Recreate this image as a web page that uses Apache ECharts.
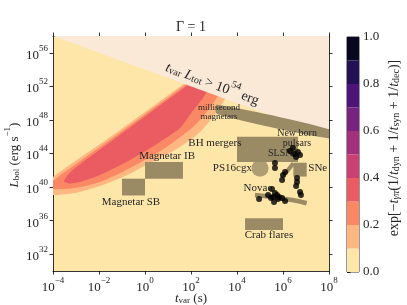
<!DOCTYPE html>
<html><head><meta charset="utf-8">
<script src="https://cdn.jsdelivr.net/npm/echarts@6/dist/echarts.min.js"></script>
<style>html,body{margin:0;padding:0;background:#fff}#c{width:407px;height:305px}</style>
</head><body><div id="c"></div>
<script>
// ---- data (all positions are log10 values: x = log10 t_var [s], y = log10 L_bol [erg/s]) ----
const xTicks = [-4, -2, 0, 2, 4, 6, 8];
const yTicks = [32, 36, 40, 44, 48, 52, 56];
const cbTicks = [0, 0.2, 0.4, 0.6, 0.8, 1.0];
const cbLevels = [0, 0.1, 0.2, 0.3, 0.4, 0.5, 0.6, 0.7, 0.8, 0.9, 1.0];
const cbColors = ['#fde6a8', '#feb780', '#fb8865', '#ea5c62', '#ca4070', '#a2307d', '#782281', '#4f1478', '#221154', '#090720'];

// filled contour boundaries of exp[...] >= 0.1, 0.2, 0.3
const contour10 = [[-4.39,39.89],[-4.0,41.20],[-1.39,46.21],[1.74,52.41],[3.70,56.34],
  [3.96,53.36],[3.48,50.50],[2.91,48.24],[2.30,46.33],[1.30,44.42],[0.22,42.87],[-0.87,41.32],[-1.96,40.13],[-3.04,39.30],[-3.91,39.06],[-4.35,39.18]];
const contour20 = [[-4.22,40.37],[-4.0,40.73],[-3.70,41.38],[-1.39,45.91],[1.74,52.17],[3.70,56.10],
  [3.61,53.36],[3.17,50.86],[2.61,48.71],[2.04,47.04],[0.87,44.66],[-0.65,42.28],[-1.96,40.61],[-3.04,39.89],[-3.70,39.77],[-4.13,39.89]];
const contour30 = [[-3.52,40.67],[-3.39,41.32],[-3.04,42.28],[-1.39,45.61],[1.74,51.93],[3.70,55.86],
  [3.04,53.36],[2.61,50.98],[2.04,48.95],[1.52,47.04],[0.65,45.38],[-0.65,43.23],[-1.96,41.44],[-2.83,40.61],[-3.26,40.43]];

// t_var * L_tot > 1e54 erg region
const energyLimit = [[-4, 58], [8, 46], [8, 58]];

// grey source boxes
const boxT = [[-1, 0], [0, 1.65], [4, 6.65], [6.45, 7.03], [4.35, 6.0]];
const boxL = [[39, 41], [41, 43], [43, 46], [41.25, 42.9], [34.9, 36.3]];
const msMagnetarBand = [[3.13, 49.8], [8.1, 46.8], [8.1, 45.75], [3.13, 48.7]];
const novaeT = [4.78, 5.35, 5.87, 6.52, 7.03];
const novaeL = [39.06, 38.88, 38.66, 38.40, 38.07];
const pulsarT = [5.94, 6.45];
const pulsarL = [41.05, 42.84];
const ps16cgx = [5.0, 42.24];

// black points
const dotT = [6.43, 6.65, 6.74, 6.48, 6.30, 6.57, 5.65, 5.65, 6.09, 6.00, 5.96, 6.61, 6.61, 6.57, 6.74, 6.78,
  5.52, 5.65, 5.35, 5.48, 5.61, 5.78, 5.96, 6.09, 4.96, 5.74, 5.57, 5.83];
const dotL = [44.66, 44.18, 43.83, 43.95, 44.30, 43.59, 42.87, 42.28, 41.80, 41.44, 40.85, 41.08, 40.61, 40.13, 39.42, 39.06,
  39.77, 39.30, 39.06, 38.70, 38.22, 38.58, 38.70, 38.34, 38.58, 39.06, 38.82, 38.82];

// annotations
const annText = ['Magnetar SB', 'Magnetar IB', 'BH mergers', 'millisecond\nmagnetars', 'New born\npulsars', 'SLSNe', 'PS16cgx', 'SNe', 'Novae', 'Crab flares'];
const annT = [-0.61, 0.96, 3.04, 3.22, 6.61, 5.35, 4.65, 7.1, 4.91, 5.39];
const annL = [38.22, 43.71, 45.26, 48.89, 45.79, 44.0, 42.24, 42.24, 39.86, 34.29];
const energyLabelPos = [2.96, 52.53];

// ---- styling ----
const SERIF = '"Liberation Serif", "Times New Roman", serif';
const TXT = '#262626';
const GREY = '#9a8b65';
const BEIGE = '#f9e9d6';
const annStyle = {
  'Magnetar SB': {size: 11, align: 'center'}, 'Magnetar IB': {size: 11, align: 'center'},
  'BH mergers': {size: 11, align: 'center'}, 'millisecond\nmagnetars': {size: 9, align: 'center', lh: 9},
  'New born\npulsars': {size: 10, align: 'center', lh: 10}, 'SLSNe': {size: 10, align: 'left'},
  'PS16cgx': {size: 11, align: 'right'}, 'SNe': {size: 11, align: 'left'}, 'Novae': {size: 11, align: 'center'},
  'Crab flares': {size: 11, align: 'center'}
};

function rich(F, S) {
  const LH = S + 9;
  return {
    r: {fontFamily: SERIF, fontSize: F, lineHeight: LH, verticalAlign: 'bottom', color: TXT, fill: TXT},
    i: {fontFamily: SERIF, fontSize: F, fontStyle: 'italic', lineHeight: LH, verticalAlign: 'bottom', color: TXT, fill: TXT},
    sp: {fontFamily: SERIF, fontSize: S, lineHeight: S, verticalAlign: 'top', color: TXT, fill: TXT},
    sb: {fontFamily: SERIF, fontSize: S, lineHeight: S + 3, verticalAlign: 'bottom', color: TXT, fill: TXT},
    si: {fontFamily: SERIF, fontSize: S, fontStyle: 'italic', lineHeight: S + 3, verticalAlign: 'bottom', color: TXT, fill: TXT}
  };
}
function expLabel(v) {
  const e = Math.round(v);
  return '{r|10}{sp|' + (e < 0 ? '\u2212' + (-e) : e) + '}';
}

function polySeries(poly, color, z) {
  return {
    type: 'custom', xAxisIndex: 0, yAxisIndex: 0, clip: true, z: z, silent: true,
    data: [poly[0]],
    renderItem: function (params, api) {
      return {type: 'polygon', shape: {points: poly.map(p => api.coord(p)), smooth: 0.25}, style: {fill: color}};
    }
  };
}

const axLine = {show: true, onZero: false, lineStyle: {color: '#000', width: 0.8}};
const axTick = {show: true, inside: false, length: 3.5, lineStyle: {color: '#000', width: 0.8}};

const series = [
  polySeries(contour10, cbColors[1], 1),
  polySeries(contour20, cbColors[2], 2),
  polySeries(contour30, cbColors[3], 3),
  {
    type: 'custom', xAxisIndex: 0, yAxisIndex: 0, clip: true, z: 4, silent: true, data: [energyLimit[0]],
    renderItem: function (params, api) {
      return {type: 'polygon', shape: {points: energyLimit.map(p => api.coord(p))}, style: {fill: BEIGE}};
    }
  },
  {
    type: 'custom', xAxisIndex: 0, yAxisIndex: 0, clip: true, z: 5, silent: true,
    data: boxT.map((t, k) => [t[0], boxL[k][0], t[1], boxL[k][1]]),
    renderItem: function (params, api) {
      const a = api.coord([api.value(0), api.value(1)]);
      const b = api.coord([api.value(2), api.value(3)]);
      return {type: 'rect', shape: {x: a[0], y: b[1], width: b[0] - a[0], height: a[1] - b[1]}, style: {fill: GREY}};
    }
  },
  polySeries(msMagnetarBand, GREY, 5),
  {
    type: 'line', xAxisIndex: 0, yAxisIndex: 0, z: 5, silent: true, showSymbol: false, symbol: 'none', smooth: true,
    data: novaeT.map((t, k) => [t, novaeL[k]]), lineStyle: {color: GREY, width: 4.5, cap: 'butt'}
  },
  {
    type: 'line', xAxisIndex: 0, yAxisIndex: 0, z: 5, silent: true, showSymbol: false, symbol: 'none',
    data: pulsarT.map((t, k) => [t, pulsarL[k]]), lineStyle: {color: GREY, width: 4, cap: 'butt'}
  },
  {
    type: 'scatter', xAxisIndex: 0, yAxisIndex: 0, z: 5, silent: true, symbolSize: 17,
    data: [ps16cgx], itemStyle: {color: GREY}
  },
  {
    type: 'custom', xAxisIndex: 0, yAxisIndex: 0, z: 6, silent: true,
    data: annText.map((s, k) => [annT[k], annL[k], k]),
    renderItem: function (params, api) {
      const k = api.value(2);
      const p = api.coord([api.value(0), api.value(1)]);
      const st = annStyle[annText[k]];
      return {type: 'text', x: p[0], y: p[1], style: {
        text: annText[k], fill: TXT, font: st.size + 'px ' + SERIF, lineHeight: st.lh || st.size,
        align: st.align, textAlign: st.align, verticalAlign: 'middle', textVerticalAlign: 'middle'}};
    }
  },
  {
    type: 'custom', xAxisIndex: 0, yAxisIndex: 0, z: 6, silent: true, data: [energyLabelPos],
    renderItem: function (params, api) {
      const p = api.coord([api.value(0), api.value(1)]);
      return {type: 'text', x: p[0], y: p[1], rotation: -20.5 * Math.PI / 180, style: {
        text: '{i|t}{sb|var}{r| }{i|L}{sb|tot}{r| > 10}{sp|54}{r| erg}', rich: rich(14, 10),
        align: 'center', textAlign: 'center', verticalAlign: 'middle', textVerticalAlign: 'middle'}};
    }
  },
  {
    type: 'scatter', xAxisIndex: 0, yAxisIndex: 0, z: 7, silent: true, symbolSize: 6,
    data: dotT.map((t, k) => [t, dotL[k]]), itemStyle: {color: '#000'}
  },
  {
    type: 'custom', xAxisIndex: 2, yAxisIndex: 2, silent: true,
    data: cbColors.map((c, k) => [cbLevels[k], cbLevels[k + 1], k]),
    renderItem: function (params, api) {
      const a = api.coord([0, api.value(0)]);
      const b = api.coord([1, api.value(1)]);
      return {type: 'rect', shape: {x: a[0], y: b[1], width: b[0] - a[0], height: a[1] - b[1]},
        style: {fill: cbColors[api.value(2)]}};
    }
  }
];

const chart = echarts.init(document.getElementById('c'), null, {renderer: 'canvas'});
chart.setOption({
  animation: false,
  backgroundColor: '#fff',
  grid: [
    {left: 53, top: 36, width: 276, height: 235, show: true, backgroundColor: cbColors[0], borderWidth: 0},
    {left: 347, top: 37, width: 12, height: 235, show: true, backgroundColor: 'transparent', borderColor: '#000', borderWidth: 0.8}
  ],
  xAxis: [
    {gridIndex: 0, type: 'value', min: -4, max: 8, interval: 2, position: 'bottom', axisLine: axLine, axisTick: axTick,
      splitLine: {show: false}, axisLabel: {margin: 5, showMinLabel: true, showMaxLabel: true, formatter: expLabel, rich: rich(13, 9)}},
    {gridIndex: 0, type: 'value', min: -4, max: 8, interval: 2, position: 'top', axisLine: axLine, axisTick: axTick,
      splitLine: {show: false}, axisLabel: {show: false}},
    {gridIndex: 1, type: 'value', min: 0, max: 1, show: false}
  ],
  yAxis: [
    {gridIndex: 0, type: 'value', min: 30, max: 58, position: 'left', axisLine: axLine,
      axisTick: Object.assign({customValues: yTicks}, axTick), splitLine: {show: false},
      axisLabel: {customValues: yTicks, margin: 5, formatter: expLabel, rich: rich(13, 9)}},
    {gridIndex: 0, type: 'value', min: 30, max: 58, position: 'right', axisLine: axLine,
      axisTick: Object.assign({customValues: yTicks}, axTick), splitLine: {show: false}, axisLabel: {show: false}},
    {gridIndex: 1, type: 'value', min: 0, max: 1, interval: 0.2, position: 'right', axisLine: {show: false},
      axisTick: axTick, splitLine: {show: false},
      axisLabel: {margin: 4, showMinLabel: true, showMaxLabel: true, formatter: v => v.toFixed(1),
        fontFamily: SERIF, fontSize: 13, color: TXT}}
  ],
  graphic: [
    {type: 'text', x: 191, y: 27, style: {text: '\u0393 = 1', font: '14px ' + SERIF, fill: TXT,
      align: 'center', textAlign: 'center', verticalAlign: 'middle', textVerticalAlign: 'middle'}},
    {type: 'text', x: 191, y: 296, style: {text: '{i|t}{sb|var}{r| (s)}', rich: rich(13, 9),
      align: 'center', textAlign: 'center', verticalAlign: 'middle', textVerticalAlign: 'middle'}},
    {type: 'text', x: 12, y: 155, rotation: Math.PI / 2, style: {text: '{i|L}{sb|bol}{r| (erg s}{sp|\u22121}{r|)}', rich: rich(13, 9),
      align: 'center', textAlign: 'center', verticalAlign: 'middle', textVerticalAlign: 'middle'}},
    {type: 'text', x: 392, y: 148, rotation: Math.PI / 2, style: {
      text: '{r|exp[\u2212}{i|t}{si|\u03b3\u03c0}{r|(1/}{i|t}{sb|dyn}{r| + 1/}{i|t}{sb|syn}{r| + 1/}{i|t}{sb|dec}{r|)]}', rich: rich(14, 10),
      align: 'center', textAlign: 'center', verticalAlign: 'middle', textVerticalAlign: 'middle'}}
  ],
  series: series
});
</script>
</body></html>
